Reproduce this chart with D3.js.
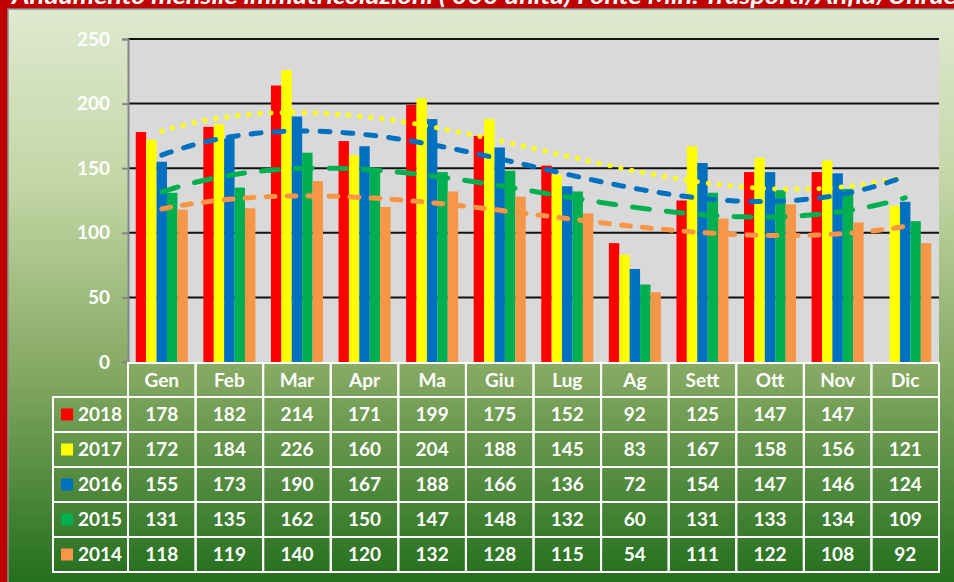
<!DOCTYPE html>
<html>
<head>
<meta charset="utf-8">
<script src="https://cdn.jsdelivr.net/npm/d3@7"></script>
<style>
  body { margin: 0; background: #c00000; overflow: hidden; }
  svg { display: block; }
  text { font-family: Lato, "Open Sans", sans-serif; font-weight: bold; fill: #fff; }
</style>
</head>
<body>
<svg id="chart" width="954" height="582"></svg>
<script>
const months = ["Gen", "Feb", "Mar", "Apr", "Ma", "Giu", "Lug", "Ag", "Sett", "Ott", "Nov", "Dic"];
const years = ["2018", "2017", "2016", "2015", "2014"];
const v2018 = [178, 182, 214, 171, 199, 175, 152, 92, 125, 147, 147, null];
const v2017 = [172, 184, 226, 160, 204, 188, 145, 83, 167, 158, 156, 121];
const v2016 = [155, 173, 190, 167, 188, 166, 136, 72, 154, 147, 146, 124];
const v2015 = [131, 135, 162, 150, 147, 148, 132, 60, 131, 133, 134, 109];
const v2014 = [118, 119, 140, 120, 132, 128, 115, 54, 111, 122, 108, 92];
const yTicks = [0, 50, 100, 150, 200, 250];
const title = "Andamento mensile immatricolazioni ('000 unità) Fonte Min. Trasporti/Anfia/Unrae";

const series = [v2018, v2017, v2016, v2015, v2014];
const colors = ["#ff0000", "#ffff00", "#0070c0", "#00b050", "#f79646"];
// which years get a polynomial trendline, and its dash style
const trends = {
  "2017": "0.1 11",
  "2016": "10 13",
  "2015": "17 17",
  "2014": "9 12"
};

const svg = d3.select("#chart");
const fontSize = 19;

// background panel with green gradient
const defs = svg.append("defs");
const grad = defs.append("linearGradient").attr("id", "bg")
  .attr("x1", 0).attr("y1", 0).attr("x2", 0).attr("y2", 1);
grad.append("stop").attr("offset", "0").attr("stop-color", "#dfe9d0");
grad.append("stop").attr("offset", "0.3").attr("stop-color", "#c2d6a5");
grad.append("stop").attr("offset", "0.62").attr("stop-color", "#84a862");
grad.append("stop").attr("offset", "1").attr("stop-color", "#1c6a18");

svg.append("rect").attr("x", 0).attr("y", 0).attr("width", 954).attr("height", 582).attr("fill", "#c00000");
svg.append("rect").attr("x", 8).attr("y", 9).attr("width", 960).attr("height", 590)
  .attr("fill", "url(#bg)").attr("stroke", "#8c8c8c").attr("stroke-width", 1.5);

// title, only its lower edge shows above the panel (as in the source)
svg.append("text")
  .attr("x", 12).attr("y", 4)
  .attr("font-size", 22).attr("font-style", "italic")
  .attr("textLength", 945).attr("lengthAdjust", "spacingAndGlyphs")
  .text(title);

// scales
const plot = {left: 128, right: 939, top: 39, bottom: 362};
const x = d3.scaleBand().domain(months).range([plot.left, plot.right])
  .paddingInner(0.23).paddingOuter(0.115);
const xs = d3.scaleBand().domain(years).range([0, x.bandwidth()]);
const y = d3.scaleLinear().domain([0, 250]).range([plot.bottom, plot.top]);
const step = x.step();
const cx = m => x(m) + x.bandwidth() / 2;

svg.append("rect")
  .attr("x", plot.left).attr("y", plot.top)
  .attr("width", plot.right - plot.left).attr("height", plot.bottom - plot.top)
  .attr("fill", "#d9d9d9");

// gridlines
svg.append("g").selectAll("line")
  .data(yTicks.filter(d => d > 0))
  .join("line")
  .attr("x1", plot.left).attr("x2", plot.right)
  .attr("y1", d => y(d)).attr("y2", d => y(d))
  .attr("stroke", "#111").attr("stroke-width", 2);

// y axis
const yAxis = svg.append("g")
  .attr("transform", `translate(${plot.left},0)`)
  .call(d3.axisLeft(y).tickValues(yTicks).tickSize(6).tickPadding(12));
yAxis.select(".domain").attr("stroke", "#868686").attr("stroke-width", 2);
yAxis.selectAll(".tick line").attr("stroke", "#868686").attr("stroke-width", 2);
yAxis.selectAll(".tick text")
  .attr("fill", "#fff").attr("font-size", fontSize)
  .attr("font-family", "Lato, 'Open Sans', sans-serif").attr("font-weight", "bold");

// bars
const bars = svg.append("g");
years.forEach((yr, i) => {
  bars.append("g").selectAll("rect")
    .data(months.map((m, j) => ({m, v: series[i][j]})).filter(d => d.v != null))
    .join("rect")
    .attr("x", d => x(d.m) + xs(yr))
    .attr("y", d => y(d.v))
    .attr("width", xs.bandwidth())
    .attr("height", d => y(0) - y(d.v))
    .attr("fill", colors[i]);
});

// polynomial least squares (order 3), like the spreadsheet trendline
function polyfit(xv, yv, order) {
  const n = order + 1;
  const A = [];
  for (let r = 0; r < n; r++) {
    A.push([]);
    for (let c = 0; c < n; c++) A[r].push(d3.sum(xv, xi => Math.pow(xi, r + c)));
    A[r].push(d3.sum(xv, (xi, k) => Math.pow(xi, r) * yv[k]));
  }
  for (let p = 0; p < n; p++) {
    let best = p;
    for (let r = p + 1; r < n; r++) if (Math.abs(A[r][p]) > Math.abs(A[best][p])) best = r;
    [A[p], A[best]] = [A[best], A[p]];
    for (let r = 0; r < n; r++) {
      if (r == p) continue;
      const f = A[r][p] / A[p][p];
      for (let c = p; c <= n; c++) A[r][c] -= f * A[p][c];
    }
  }
  return A.map((row, r) => row[n] / row[r]);
}

const line = d3.line().x(d => d[0]).y(d => d[1]).curve(d3.curveBasis);
const trendG = svg.append("g");
years.forEach((yr, i) => {
  if (!trends[yr]) return;
  const pts = series[i].map((v, j) => [j + 1, v]).filter(d => d[1] != null);
  const coef = polyfit(pts.map(d => d[0]), pts.map(d => d[1]), 3);
  const f = t => coef.reduce((s, c, k) => s + c * Math.pow(t, k), 0);
  const t0 = pts[0][0], t1 = pts[pts.length - 1][0];
  const path = d3.range(t0, t1 + 0.001, 0.1).map(t =>
    [cx(months[0]) + (t - 1) * step, y(f(t))]);
  trendG.append("path")
    .datum(path)
    .attr("d", line)
    .attr("fill", "none")
    .attr("stroke", colors[i])
    .attr("stroke-width", 5)
    .attr("stroke-linecap", "round")
    .attr("stroke-dasharray", trends[yr]);
});

// data table
const rowTop = 363, headH = 34, rowH = 35;
const legendLeft = 53;
const tbl = svg.append("g");
const white = "#fff";

// header
months.forEach(m => {
  tbl.append("rect")
    .attr("x", x(m) - step * x.paddingInner() / 2)
    .attr("y", rowTop).attr("width", step).attr("height", headH)
    .attr("fill", "none").attr("stroke", white).attr("stroke-width", 2);
  tbl.append("text")
    .attr("x", cx(m)).attr("y", rowTop + headH / 2)
    .attr("dy", "0.36em").attr("text-anchor", "middle")
    .attr("font-size", fontSize).text(m);
});

years.forEach((yr, i) => {
  const ry = rowTop + headH + i * rowH;
  tbl.append("rect")
    .attr("x", legendLeft).attr("y", ry)
    .attr("width", plot.left - legendLeft).attr("height", rowH)
    .attr("fill", "none").attr("stroke", white).attr("stroke-width", 2);
  tbl.append("rect")
    .attr("x", legendLeft + 8).attr("y", ry + rowH / 2 - 6)
    .attr("width", 12).attr("height", 12)
    .attr("fill", colors[i]);
  tbl.append("text")
    .attr("x", legendLeft + 25).attr("y", ry + rowH / 2)
    .attr("dy", "0.36em").attr("font-size", fontSize).text(yr);
  months.forEach((m, j) => {
    tbl.append("rect")
      .attr("x", x(m) - step * x.paddingInner() / 2)
      .attr("y", ry).attr("width", step).attr("height", rowH)
      .attr("fill", "none").attr("stroke", white).attr("stroke-width", 2);
    const v = series[i][j];
    if (v == null) return;
    tbl.append("text")
      .attr("x", cx(m)).attr("y", ry + rowH / 2)
      .attr("dy", "0.36em").attr("text-anchor", "middle")
      .attr("font-size", fontSize).text(v);
  });
});
</script>
</body>
</html>
